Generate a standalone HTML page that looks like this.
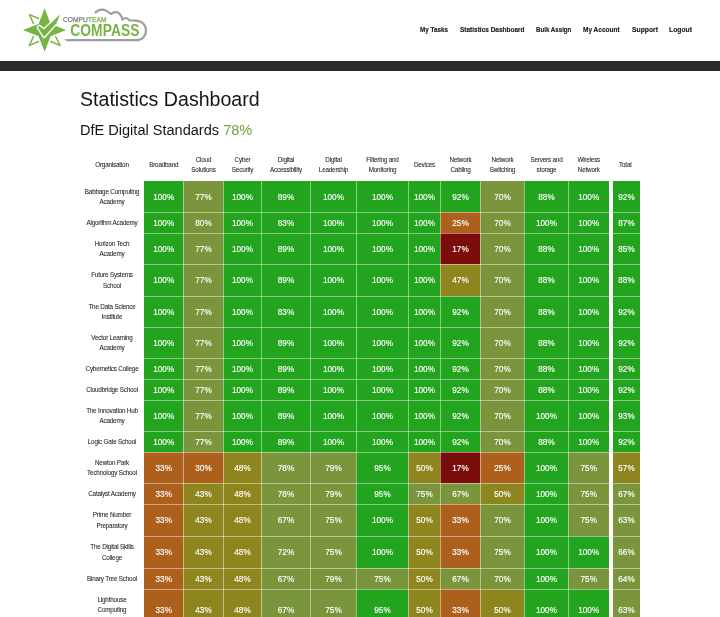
<!DOCTYPE html>
<html><head><meta charset="utf-8"><title>Statistics Dashboard</title>
<style>
html,body{margin:0;padding:0;background:#fff;}
#wrap{position:absolute;left:0;top:0;width:720px;height:617px;will-change:transform;background:#fff;}
body{width:720px;height:617px;overflow:hidden;position:relative;font-family:"Liberation Sans",sans-serif;color:#222;}
.logo{position:absolute;left:0;top:0;width:160px;height:60px;}
.nav{position:absolute;top:24.0px;font-weight:bold;font-size:7px;transform-origin:0 0;color:#1a1a1a;white-space:nowrap;line-height:12px;-webkit-text-stroke:0.15px #1a1a1a;}
.bar{position:absolute;left:0;top:61px;width:720px;height:10px;background:#2b2b2b;}
h1{position:absolute;left:80px;top:84.6px;margin:0;font-weight:normal;font-size:19.6px;line-height:28px;color:#151515;white-space:nowrap;}
h2{position:absolute;left:80px;top:120.3px;margin:0;font-weight:normal;font-size:14.55px;line-height:20px;color:#151515;white-space:nowrap;}
h2 span{color:#74a043;}
.th{position:absolute;top:150.0px;height:30.4px;display:flex;align-items:center;justify-content:center;text-align:center;font-size:6.3px;letter-spacing:-0.18px;line-height:10.2px;color:#222;-webkit-text-stroke:0.06px #222;}
.org{position:absolute;left:80px;width:64px;padding-top:1.2px;box-sizing:border-box;display:flex;align-items:center;justify-content:center;text-align:center;font-size:6.3px;letter-spacing:-0.18px;line-height:10.2px;color:#222;-webkit-text-stroke:0.06px #222;}
.c{position:absolute;display:flex;padding-top:1.4px;box-sizing:border-box;align-items:center;justify-content:center;color:#fff;font-size:8.2px;-webkit-text-stroke:0.15px #fff;}
.vl{position:absolute;top:181px;height:440px;width:1px;background:rgba(255,255,255,0.45);}
.hl{position:absolute;left:144px;width:465px;height:1px;background:rgba(255,255,255,0.45);}
.hl2{position:absolute;left:613px;width:27px;height:1px;background:rgba(255,255,255,0.45);}
</style></head><body><div id="wrap">
<div class="logo"><svg width="160" height="60" viewBox="0 0 160 60">
<path d="M44.6 8.2 L50.6 23.9 L66.2 30.0 L50.6 36.3 L44.6 51.8 L38.6 36.3 L22.9 30.0 L38.6 23.9 Z" fill="#78b444"/>
<g fill="none" stroke="#78b444" stroke-width="1.4" stroke-linecap="round" stroke-linejoin="round">
<path d="M38.5 18.5 L29.5 14.6 L33.5 23.6"/>
<path d="M33.5 36.6 L29.2 45.6 L38.5 41.5"/>
<path d="M50.7 41.5 L60.1 45.4 L55.7 36.6"/>
</g>
<path d="M37.8 27.3 L39.2 25.9 L44.0 29.4 L60.3 14.3 L56.3 23.6 L44.0 37.0 Z" fill="#78b444" stroke="#fff" stroke-width="2.6" stroke-linejoin="round" paint-order="stroke"/>
<text x="63" y="22" font-family="Liberation Sans, sans-serif" font-size="6.7" fill="#808080" stroke="#808080" stroke-width="0.25">COMPU<tspan fill="#78b444" stroke="#78b444">TEAM</tspan></text>
<text transform="translate(70.3,36) scale(0.926,1.08)" x="0" y="0" font-family="Liberation Sans, sans-serif" font-weight="bold" font-size="15" fill="#78b444">COMPASS</text>
<path d="M95 13.2 C97 10.5 100 9.6 102.2 9.6 C105 9.6 108 11.5 110.8 14 C112 12.8 114 12 116.1 12.05 C119 12.2 121 14.5 122.6 19.3 C123.8 18.3 125 18 126.2 18 C127.5 18 128.5 19.3 129.1 20.3 L135.6 20.6 C142 20.8 146 25 146 30.5 C146 36 142 40.2 136.5 40.2 L68 40.2" fill="none" stroke="#9d9ea0" stroke-width="2.2"/>
<path d="M63.9 39.2 L68.5 39.2 L68.5 41.2 L67 41.2 Z" fill="#9c9c9e"/>
</svg>
</div>
<div class="nav" style="left:420px;transform:scaleX(0.903)">My Tasks</div>
<div class="nav" style="left:459.7px;transform:scaleX(0.927)">Statistics Dashboard</div>
<div class="nav" style="left:535.9px;transform:scaleX(0.88)">Bulk Assign</div>
<div class="nav" style="left:583.1px;transform:scaleX(0.929)">My Account</div>
<div class="nav" style="left:631.5px;transform:scaleX(0.97)">Support</div>
<div class="nav" style="left:668.8px;transform:scaleX(0.966)">Logout</div>
<div class="bar"></div>
<h1>Statistics Dashboard</h1>
<h2>DfE Digital Standards <span>78%</span></h2>
<div class="th" style="left:144px;width:39.5px">Broadband</div>
<div class="th" style="left:183.5px;width:40.0px">Cloud<br>Solutions</div>
<div class="th" style="left:223.5px;width:38.0px">Cyber<br>Security</div>
<div class="th" style="left:261.5px;width:49.0px">Digital<br>Accessibility</div>
<div class="th" style="left:310.5px;width:46.0px">Digital<br>Leadership</div>
<div class="th" style="left:356.5px;width:52.0px">Filtering and<br>Monitoring</div>
<div class="th" style="left:408.5px;width:32.0px">Devices</div>
<div class="th" style="left:440.5px;width:40.0px">Network<br>Cabling</div>
<div class="th" style="left:480.5px;width:44.0px">Network<br>Switching</div>
<div class="th" style="left:524.5px;width:44.0px">Servers and<br>storage</div>
<div class="th" style="left:568.5px;width:40.5px">Wireless<br>Network</div>
<div class="th" style="left:80px;width:64px">Organisation</div>
<div class="th" style="left:610px;width:30.5px">Total</div>
<div class="org" style="top:181px;height:31px"><span>Babbage Computing<br>Academy</span></div>
<div class="c" style="left:144px;top:181px;width:39px;height:31px;background:#22a41f"><span style="position:relative;left:0.25px;top:0.15px">100%</span></div>
<div class="c" style="left:183px;top:181px;width:40px;height:31px;background:#7a953b"><span style="position:relative;left:0.5px;top:0.15px">77%</span></div>
<div class="c" style="left:223px;top:181px;width:38px;height:31px;background:#22a41f"><span style="position:relative;left:0.5px;top:0.15px">100%</span></div>
<div class="c" style="left:261px;top:181px;width:49px;height:31px;background:#22a41f"><span style="position:relative;left:0.5px;top:0.15px">89%</span></div>
<div class="c" style="left:310px;top:181px;width:46px;height:31px;background:#22a41f"><span style="position:relative;left:0.5px;top:0.15px">100%</span></div>
<div class="c" style="left:356px;top:181px;width:52px;height:31px;background:#22a41f"><span style="position:relative;left:0.5px;top:0.15px">100%</span></div>
<div class="c" style="left:408px;top:181px;width:32px;height:31px;background:#22a41f"><span style="position:relative;left:0.5px;top:0.15px">100%</span></div>
<div class="c" style="left:440px;top:181px;width:40px;height:31px;background:#22a41f"><span style="position:relative;left:0.5px;top:0.15px">92%</span></div>
<div class="c" style="left:480px;top:181px;width:44px;height:31px;background:#7a953b"><span style="position:relative;left:0.5px;top:0.15px">70%</span></div>
<div class="c" style="left:524px;top:181px;width:44px;height:31px;background:#22a41f"><span style="position:relative;left:0.5px;top:0.15px">88%</span></div>
<div class="c" style="left:568px;top:181px;width:41px;height:31px;background:#22a41f"><span style="position:relative;left:0.25px;top:0.15px">100%</span></div>
<div class="c" style="left:613px;top:181px;width:27px;height:31px;background:#22a41f">92%</div>
<div class="org" style="top:212px;height:21px"><span>Algorithm Academy</span></div>
<div class="c" style="left:144px;top:212px;width:39px;height:21px;background:#22a41f"><span style="position:relative;left:0.25px;top:0.35px">100%</span></div>
<div class="c" style="left:183px;top:212px;width:40px;height:21px;background:#7a953b"><span style="position:relative;left:0.5px;top:0.35px">80%</span></div>
<div class="c" style="left:223px;top:212px;width:38px;height:21px;background:#22a41f"><span style="position:relative;left:0.5px;top:0.35px">100%</span></div>
<div class="c" style="left:261px;top:212px;width:49px;height:21px;background:#22a41f"><span style="position:relative;left:0.5px;top:0.35px">83%</span></div>
<div class="c" style="left:310px;top:212px;width:46px;height:21px;background:#22a41f"><span style="position:relative;left:0.5px;top:0.35px">100%</span></div>
<div class="c" style="left:356px;top:212px;width:52px;height:21px;background:#22a41f"><span style="position:relative;left:0.5px;top:0.35px">100%</span></div>
<div class="c" style="left:408px;top:212px;width:32px;height:21px;background:#22a41f"><span style="position:relative;left:0.5px;top:0.35px">100%</span></div>
<div class="c" style="left:440px;top:212px;width:40px;height:21px;background:#ad601b"><span style="position:relative;left:0.5px;top:0.35px">25%</span></div>
<div class="c" style="left:480px;top:212px;width:44px;height:21px;background:#7a953b"><span style="position:relative;left:0.5px;top:0.35px">70%</span></div>
<div class="c" style="left:524px;top:212px;width:44px;height:21px;background:#22a41f"><span style="position:relative;left:0.5px;top:0.35px">100%</span></div>
<div class="c" style="left:568px;top:212px;width:41px;height:21px;background:#22a41f"><span style="position:relative;left:0.25px;top:0.35px">100%</span></div>
<div class="c" style="left:613px;top:212px;width:27px;height:21px;background:#22a41f">87%</div>
<div class="org" style="top:233px;height:31px"><span>Horizon Tech<br>Academy</span></div>
<div class="c" style="left:144px;top:233px;width:39px;height:31px;background:#22a41f"><span style="position:relative;left:0.25px;top:0.4px">100%</span></div>
<div class="c" style="left:183px;top:233px;width:40px;height:31px;background:#7a953b"><span style="position:relative;left:0.5px;top:0.4px">77%</span></div>
<div class="c" style="left:223px;top:233px;width:38px;height:31px;background:#22a41f"><span style="position:relative;left:0.5px;top:0.4px">100%</span></div>
<div class="c" style="left:261px;top:233px;width:49px;height:31px;background:#22a41f"><span style="position:relative;left:0.5px;top:0.4px">89%</span></div>
<div class="c" style="left:310px;top:233px;width:46px;height:31px;background:#22a41f"><span style="position:relative;left:0.5px;top:0.4px">100%</span></div>
<div class="c" style="left:356px;top:233px;width:52px;height:31px;background:#22a41f"><span style="position:relative;left:0.5px;top:0.4px">100%</span></div>
<div class="c" style="left:408px;top:233px;width:32px;height:31px;background:#22a41f"><span style="position:relative;left:0.5px;top:0.4px">100%</span></div>
<div class="c" style="left:440px;top:233px;width:40px;height:31px;background:#7a0c0c"><span style="position:relative;left:0.5px;top:0.4px">17%</span></div>
<div class="c" style="left:480px;top:233px;width:44px;height:31px;background:#7a953b"><span style="position:relative;left:0.5px;top:0.4px">70%</span></div>
<div class="c" style="left:524px;top:233px;width:44px;height:31px;background:#22a41f"><span style="position:relative;left:0.5px;top:0.4px">88%</span></div>
<div class="c" style="left:568px;top:233px;width:41px;height:31px;background:#22a41f"><span style="position:relative;left:0.25px;top:0.4px">100%</span></div>
<div class="c" style="left:613px;top:233px;width:27px;height:31px;background:#22a41f">85%</div>
<div class="org" style="top:264px;height:32px"><span>Future Systems<br>School</span></div>
<div class="c" style="left:144px;top:264px;width:39px;height:32px;background:#22a41f"><span style="position:relative;left:0.25px;top:0.1px">100%</span></div>
<div class="c" style="left:183px;top:264px;width:40px;height:32px;background:#7a953b"><span style="position:relative;left:0.5px;top:0.1px">77%</span></div>
<div class="c" style="left:223px;top:264px;width:38px;height:32px;background:#22a41f"><span style="position:relative;left:0.5px;top:0.1px">100%</span></div>
<div class="c" style="left:261px;top:264px;width:49px;height:32px;background:#22a41f"><span style="position:relative;left:0.5px;top:0.1px">89%</span></div>
<div class="c" style="left:310px;top:264px;width:46px;height:32px;background:#22a41f"><span style="position:relative;left:0.5px;top:0.1px">100%</span></div>
<div class="c" style="left:356px;top:264px;width:52px;height:32px;background:#22a41f"><span style="position:relative;left:0.5px;top:0.1px">100%</span></div>
<div class="c" style="left:408px;top:264px;width:32px;height:32px;background:#22a41f"><span style="position:relative;left:0.5px;top:0.1px">100%</span></div>
<div class="c" style="left:440px;top:264px;width:40px;height:32px;background:#8e851f"><span style="position:relative;left:0.5px;top:0.1px">47%</span></div>
<div class="c" style="left:480px;top:264px;width:44px;height:32px;background:#7a953b"><span style="position:relative;left:0.5px;top:0.1px">70%</span></div>
<div class="c" style="left:524px;top:264px;width:44px;height:32px;background:#22a41f"><span style="position:relative;left:0.5px;top:0.1px">88%</span></div>
<div class="c" style="left:568px;top:264px;width:41px;height:32px;background:#22a41f"><span style="position:relative;left:0.25px;top:0.1px">100%</span></div>
<div class="c" style="left:613px;top:264px;width:27px;height:32px;background:#22a41f">88%</div>
<div class="org" style="top:296px;height:31px"><span>The Data Science<br>Institute</span></div>
<div class="c" style="left:144px;top:296px;width:39px;height:31px;background:#22a41f"><span style="position:relative;left:0.25px;top:0.2px">100%</span></div>
<div class="c" style="left:183px;top:296px;width:40px;height:31px;background:#7a953b"><span style="position:relative;left:0.5px;top:0.2px">77%</span></div>
<div class="c" style="left:223px;top:296px;width:38px;height:31px;background:#22a41f"><span style="position:relative;left:0.5px;top:0.2px">100%</span></div>
<div class="c" style="left:261px;top:296px;width:49px;height:31px;background:#22a41f"><span style="position:relative;left:0.5px;top:0.2px">83%</span></div>
<div class="c" style="left:310px;top:296px;width:46px;height:31px;background:#22a41f"><span style="position:relative;left:0.5px;top:0.2px">100%</span></div>
<div class="c" style="left:356px;top:296px;width:52px;height:31px;background:#22a41f"><span style="position:relative;left:0.5px;top:0.2px">100%</span></div>
<div class="c" style="left:408px;top:296px;width:32px;height:31px;background:#22a41f"><span style="position:relative;left:0.5px;top:0.2px">100%</span></div>
<div class="c" style="left:440px;top:296px;width:40px;height:31px;background:#22a41f"><span style="position:relative;left:0.5px;top:0.2px">92%</span></div>
<div class="c" style="left:480px;top:296px;width:44px;height:31px;background:#7a953b"><span style="position:relative;left:0.5px;top:0.2px">70%</span></div>
<div class="c" style="left:524px;top:296px;width:44px;height:31px;background:#22a41f"><span style="position:relative;left:0.5px;top:0.2px">88%</span></div>
<div class="c" style="left:568px;top:296px;width:41px;height:31px;background:#22a41f"><span style="position:relative;left:0.25px;top:0.2px">100%</span></div>
<div class="c" style="left:613px;top:296px;width:27px;height:31px;background:#22a41f">92%</div>
<div class="org" style="top:327px;height:31px"><span>Vector Learning<br>Academy</span></div>
<div class="c" style="left:144px;top:327px;width:39px;height:31px;background:#22a41f"><span style="position:relative;left:0.25px;top:0.55px">100%</span></div>
<div class="c" style="left:183px;top:327px;width:40px;height:31px;background:#7a953b"><span style="position:relative;left:0.5px;top:0.55px">77%</span></div>
<div class="c" style="left:223px;top:327px;width:38px;height:31px;background:#22a41f"><span style="position:relative;left:0.5px;top:0.55px">100%</span></div>
<div class="c" style="left:261px;top:327px;width:49px;height:31px;background:#22a41f"><span style="position:relative;left:0.5px;top:0.55px">89%</span></div>
<div class="c" style="left:310px;top:327px;width:46px;height:31px;background:#22a41f"><span style="position:relative;left:0.5px;top:0.55px">100%</span></div>
<div class="c" style="left:356px;top:327px;width:52px;height:31px;background:#22a41f"><span style="position:relative;left:0.5px;top:0.55px">100%</span></div>
<div class="c" style="left:408px;top:327px;width:32px;height:31px;background:#22a41f"><span style="position:relative;left:0.5px;top:0.55px">100%</span></div>
<div class="c" style="left:440px;top:327px;width:40px;height:31px;background:#22a41f"><span style="position:relative;left:0.5px;top:0.55px">92%</span></div>
<div class="c" style="left:480px;top:327px;width:44px;height:31px;background:#7a953b"><span style="position:relative;left:0.5px;top:0.55px">70%</span></div>
<div class="c" style="left:524px;top:327px;width:44px;height:31px;background:#22a41f"><span style="position:relative;left:0.5px;top:0.55px">88%</span></div>
<div class="c" style="left:568px;top:327px;width:41px;height:31px;background:#22a41f"><span style="position:relative;left:0.25px;top:0.55px">100%</span></div>
<div class="c" style="left:613px;top:327px;width:27px;height:31px;background:#22a41f">92%</div>
<div class="org" style="top:358px;height:21px"><span>Cybernetics College</span></div>
<div class="c" style="left:144px;top:358px;width:39px;height:21px;background:#22a41f"><span style="position:relative;left:0.25px;top:0.45px">100%</span></div>
<div class="c" style="left:183px;top:358px;width:40px;height:21px;background:#7a953b"><span style="position:relative;left:0.5px;top:0.45px">77%</span></div>
<div class="c" style="left:223px;top:358px;width:38px;height:21px;background:#22a41f"><span style="position:relative;left:0.5px;top:0.45px">100%</span></div>
<div class="c" style="left:261px;top:358px;width:49px;height:21px;background:#22a41f"><span style="position:relative;left:0.5px;top:0.45px">89%</span></div>
<div class="c" style="left:310px;top:358px;width:46px;height:21px;background:#22a41f"><span style="position:relative;left:0.5px;top:0.45px">100%</span></div>
<div class="c" style="left:356px;top:358px;width:52px;height:21px;background:#22a41f"><span style="position:relative;left:0.5px;top:0.45px">100%</span></div>
<div class="c" style="left:408px;top:358px;width:32px;height:21px;background:#22a41f"><span style="position:relative;left:0.5px;top:0.45px">100%</span></div>
<div class="c" style="left:440px;top:358px;width:40px;height:21px;background:#22a41f"><span style="position:relative;left:0.5px;top:0.45px">92%</span></div>
<div class="c" style="left:480px;top:358px;width:44px;height:21px;background:#7a953b"><span style="position:relative;left:0.5px;top:0.45px">70%</span></div>
<div class="c" style="left:524px;top:358px;width:44px;height:21px;background:#22a41f"><span style="position:relative;left:0.5px;top:0.45px">88%</span></div>
<div class="c" style="left:568px;top:358px;width:41px;height:21px;background:#22a41f"><span style="position:relative;left:0.25px;top:0.45px">100%</span></div>
<div class="c" style="left:613px;top:358px;width:27px;height:21px;background:#22a41f">92%</div>
<div class="org" style="top:379px;height:21px"><span>Cloudbridge School</span></div>
<div class="c" style="left:144px;top:379px;width:39px;height:21px;background:#22a41f"><span style="position:relative;left:0.25px;top:0.4px">100%</span></div>
<div class="c" style="left:183px;top:379px;width:40px;height:21px;background:#7a953b"><span style="position:relative;left:0.5px;top:0.4px">77%</span></div>
<div class="c" style="left:223px;top:379px;width:38px;height:21px;background:#22a41f"><span style="position:relative;left:0.5px;top:0.4px">100%</span></div>
<div class="c" style="left:261px;top:379px;width:49px;height:21px;background:#22a41f"><span style="position:relative;left:0.5px;top:0.4px">89%</span></div>
<div class="c" style="left:310px;top:379px;width:46px;height:21px;background:#22a41f"><span style="position:relative;left:0.5px;top:0.4px">100%</span></div>
<div class="c" style="left:356px;top:379px;width:52px;height:21px;background:#22a41f"><span style="position:relative;left:0.5px;top:0.4px">100%</span></div>
<div class="c" style="left:408px;top:379px;width:32px;height:21px;background:#22a41f"><span style="position:relative;left:0.5px;top:0.4px">100%</span></div>
<div class="c" style="left:440px;top:379px;width:40px;height:21px;background:#22a41f"><span style="position:relative;left:0.5px;top:0.4px">92%</span></div>
<div class="c" style="left:480px;top:379px;width:44px;height:21px;background:#7a953b"><span style="position:relative;left:0.5px;top:0.4px">70%</span></div>
<div class="c" style="left:524px;top:379px;width:44px;height:21px;background:#22a41f"><span style="position:relative;left:0.5px;top:0.4px">88%</span></div>
<div class="c" style="left:568px;top:379px;width:41px;height:21px;background:#22a41f"><span style="position:relative;left:0.25px;top:0.4px">100%</span></div>
<div class="c" style="left:613px;top:379px;width:27px;height:21px;background:#22a41f">92%</div>
<div class="org" style="top:400px;height:31px"><span>The Innovation Hub<br>Academy</span></div>
<div class="c" style="left:144px;top:400px;width:39px;height:31px;background:#22a41f"><span style="position:relative;left:0.25px;top:0.5px">100%</span></div>
<div class="c" style="left:183px;top:400px;width:40px;height:31px;background:#7a953b"><span style="position:relative;left:0.5px;top:0.5px">77%</span></div>
<div class="c" style="left:223px;top:400px;width:38px;height:31px;background:#22a41f"><span style="position:relative;left:0.5px;top:0.5px">100%</span></div>
<div class="c" style="left:261px;top:400px;width:49px;height:31px;background:#22a41f"><span style="position:relative;left:0.5px;top:0.5px">89%</span></div>
<div class="c" style="left:310px;top:400px;width:46px;height:31px;background:#22a41f"><span style="position:relative;left:0.5px;top:0.5px">100%</span></div>
<div class="c" style="left:356px;top:400px;width:52px;height:31px;background:#22a41f"><span style="position:relative;left:0.5px;top:0.5px">100%</span></div>
<div class="c" style="left:408px;top:400px;width:32px;height:31px;background:#22a41f"><span style="position:relative;left:0.5px;top:0.5px">100%</span></div>
<div class="c" style="left:440px;top:400px;width:40px;height:31px;background:#22a41f"><span style="position:relative;left:0.5px;top:0.5px">92%</span></div>
<div class="c" style="left:480px;top:400px;width:44px;height:31px;background:#7a953b"><span style="position:relative;left:0.5px;top:0.5px">70%</span></div>
<div class="c" style="left:524px;top:400px;width:44px;height:31px;background:#22a41f"><span style="position:relative;left:0.5px;top:0.5px">100%</span></div>
<div class="c" style="left:568px;top:400px;width:41px;height:31px;background:#22a41f"><span style="position:relative;left:0.25px;top:0.5px">100%</span></div>
<div class="c" style="left:613px;top:400px;width:27px;height:31px;background:#22a41f">93%</div>
<div class="org" style="top:431px;height:21px"><span>Logic Gate School</span></div>
<div class="c" style="left:144px;top:431px;width:39px;height:21px;background:#22a41f"><span style="position:relative;left:0.25px;top:0.55px">100%</span></div>
<div class="c" style="left:183px;top:431px;width:40px;height:21px;background:#7a953b"><span style="position:relative;left:0.5px;top:0.55px">77%</span></div>
<div class="c" style="left:223px;top:431px;width:38px;height:21px;background:#22a41f"><span style="position:relative;left:0.5px;top:0.55px">100%</span></div>
<div class="c" style="left:261px;top:431px;width:49px;height:21px;background:#22a41f"><span style="position:relative;left:0.5px;top:0.55px">89%</span></div>
<div class="c" style="left:310px;top:431px;width:46px;height:21px;background:#22a41f"><span style="position:relative;left:0.5px;top:0.55px">100%</span></div>
<div class="c" style="left:356px;top:431px;width:52px;height:21px;background:#22a41f"><span style="position:relative;left:0.5px;top:0.55px">100%</span></div>
<div class="c" style="left:408px;top:431px;width:32px;height:21px;background:#22a41f"><span style="position:relative;left:0.5px;top:0.55px">100%</span></div>
<div class="c" style="left:440px;top:431px;width:40px;height:21px;background:#22a41f"><span style="position:relative;left:0.5px;top:0.55px">92%</span></div>
<div class="c" style="left:480px;top:431px;width:44px;height:21px;background:#7a953b"><span style="position:relative;left:0.5px;top:0.55px">70%</span></div>
<div class="c" style="left:524px;top:431px;width:44px;height:21px;background:#22a41f"><span style="position:relative;left:0.5px;top:0.55px">88%</span></div>
<div class="c" style="left:568px;top:431px;width:41px;height:21px;background:#22a41f"><span style="position:relative;left:0.25px;top:0.55px">100%</span></div>
<div class="c" style="left:613px;top:431px;width:27px;height:21px;background:#22a41f">92%</div>
<div class="org" style="top:452px;height:31px"><span>Newton Park<br>Technology School</span></div>
<div class="c" style="left:144px;top:452px;width:39px;height:31px;background:#ad601b"><span style="position:relative;left:0.25px;top:0.4px">33%</span></div>
<div class="c" style="left:183px;top:452px;width:40px;height:31px;background:#ad601b"><span style="position:relative;left:0.5px;top:0.4px">30%</span></div>
<div class="c" style="left:223px;top:452px;width:38px;height:31px;background:#8e851f"><span style="position:relative;left:0.5px;top:0.4px">48%</span></div>
<div class="c" style="left:261px;top:452px;width:49px;height:31px;background:#7a953b"><span style="position:relative;left:0.5px;top:0.4px">78%</span></div>
<div class="c" style="left:310px;top:452px;width:46px;height:31px;background:#7a953b"><span style="position:relative;left:0.5px;top:0.4px">79%</span></div>
<div class="c" style="left:356px;top:452px;width:52px;height:31px;background:#22a41f"><span style="position:relative;left:0.5px;top:0.4px">95%</span></div>
<div class="c" style="left:408px;top:452px;width:32px;height:31px;background:#8e851f"><span style="position:relative;left:0.5px;top:0.4px">50%</span></div>
<div class="c" style="left:440px;top:452px;width:40px;height:31px;background:#7a0c0c"><span style="position:relative;left:0.5px;top:0.4px">17%</span></div>
<div class="c" style="left:480px;top:452px;width:44px;height:31px;background:#ad601b"><span style="position:relative;left:0.5px;top:0.4px">25%</span></div>
<div class="c" style="left:524px;top:452px;width:44px;height:31px;background:#22a41f"><span style="position:relative;left:0.5px;top:0.4px">100%</span></div>
<div class="c" style="left:568px;top:452px;width:41px;height:31px;background:#7a953b"><span style="position:relative;left:0.25px;top:0.4px">75%</span></div>
<div class="c" style="left:613px;top:452px;width:27px;height:31px;background:#8e851f">57%</div>
<div class="org" style="top:483px;height:21px"><span>Catalyst Academy</span></div>
<div class="c" style="left:144px;top:483px;width:39px;height:21px;background:#ad601b"><span style="position:relative;left:0.25px;top:0.25px">33%</span></div>
<div class="c" style="left:183px;top:483px;width:40px;height:21px;background:#8e851f"><span style="position:relative;left:0.5px;top:0.25px">43%</span></div>
<div class="c" style="left:223px;top:483px;width:38px;height:21px;background:#8e851f"><span style="position:relative;left:0.5px;top:0.25px">48%</span></div>
<div class="c" style="left:261px;top:483px;width:49px;height:21px;background:#7a953b"><span style="position:relative;left:0.5px;top:0.25px">78%</span></div>
<div class="c" style="left:310px;top:483px;width:46px;height:21px;background:#7a953b"><span style="position:relative;left:0.5px;top:0.25px">79%</span></div>
<div class="c" style="left:356px;top:483px;width:52px;height:21px;background:#22a41f"><span style="position:relative;left:0.5px;top:0.25px">95%</span></div>
<div class="c" style="left:408px;top:483px;width:32px;height:21px;background:#7a953b"><span style="position:relative;left:0.5px;top:0.25px">75%</span></div>
<div class="c" style="left:440px;top:483px;width:40px;height:21px;background:#7a953b"><span style="position:relative;left:0.5px;top:0.25px">67%</span></div>
<div class="c" style="left:480px;top:483px;width:44px;height:21px;background:#8e851f"><span style="position:relative;left:0.5px;top:0.25px">50%</span></div>
<div class="c" style="left:524px;top:483px;width:44px;height:21px;background:#22a41f"><span style="position:relative;left:0.5px;top:0.25px">100%</span></div>
<div class="c" style="left:568px;top:483px;width:41px;height:21px;background:#7a953b"><span style="position:relative;left:0.25px;top:0.25px">75%</span></div>
<div class="c" style="left:613px;top:483px;width:27px;height:21px;background:#7a953b">67%</div>
<div class="org" style="top:504px;height:32px"><span>Prime Number<br>Preparatory</span></div>
<div class="c" style="left:144px;top:504px;width:39px;height:32px;background:#ad601b"><span style="position:relative;left:0.25px;top:0.2px">33%</span></div>
<div class="c" style="left:183px;top:504px;width:40px;height:32px;background:#8e851f"><span style="position:relative;left:0.5px;top:0.2px">43%</span></div>
<div class="c" style="left:223px;top:504px;width:38px;height:32px;background:#8e851f"><span style="position:relative;left:0.5px;top:0.2px">48%</span></div>
<div class="c" style="left:261px;top:504px;width:49px;height:32px;background:#7a953b"><span style="position:relative;left:0.5px;top:0.2px">67%</span></div>
<div class="c" style="left:310px;top:504px;width:46px;height:32px;background:#7a953b"><span style="position:relative;left:0.5px;top:0.2px">75%</span></div>
<div class="c" style="left:356px;top:504px;width:52px;height:32px;background:#22a41f"><span style="position:relative;left:0.5px;top:0.2px">100%</span></div>
<div class="c" style="left:408px;top:504px;width:32px;height:32px;background:#8e851f"><span style="position:relative;left:0.5px;top:0.2px">50%</span></div>
<div class="c" style="left:440px;top:504px;width:40px;height:32px;background:#ad601b"><span style="position:relative;left:0.5px;top:0.2px">33%</span></div>
<div class="c" style="left:480px;top:504px;width:44px;height:32px;background:#7a953b"><span style="position:relative;left:0.5px;top:0.2px">70%</span></div>
<div class="c" style="left:524px;top:504px;width:44px;height:32px;background:#22a41f"><span style="position:relative;left:0.5px;top:0.2px">100%</span></div>
<div class="c" style="left:568px;top:504px;width:41px;height:32px;background:#7a953b"><span style="position:relative;left:0.25px;top:0.2px">75%</span></div>
<div class="c" style="left:613px;top:504px;width:27px;height:32px;background:#7a953b">63%</div>
<div class="org" style="top:536px;height:32px"><span>The Digital Skills<br>College</span></div>
<div class="c" style="left:144px;top:536px;width:39px;height:32px;background:#ad601b"><span style="position:relative;left:0.25px;top:0.05px">33%</span></div>
<div class="c" style="left:183px;top:536px;width:40px;height:32px;background:#8e851f"><span style="position:relative;left:0.5px;top:0.05px">43%</span></div>
<div class="c" style="left:223px;top:536px;width:38px;height:32px;background:#8e851f"><span style="position:relative;left:0.5px;top:0.05px">48%</span></div>
<div class="c" style="left:261px;top:536px;width:49px;height:32px;background:#7a953b"><span style="position:relative;left:0.5px;top:0.05px">72%</span></div>
<div class="c" style="left:310px;top:536px;width:46px;height:32px;background:#7a953b"><span style="position:relative;left:0.5px;top:0.05px">75%</span></div>
<div class="c" style="left:356px;top:536px;width:52px;height:32px;background:#22a41f"><span style="position:relative;left:0.5px;top:0.05px">100%</span></div>
<div class="c" style="left:408px;top:536px;width:32px;height:32px;background:#8e851f"><span style="position:relative;left:0.5px;top:0.05px">50%</span></div>
<div class="c" style="left:440px;top:536px;width:40px;height:32px;background:#ad601b"><span style="position:relative;left:0.5px;top:0.05px">33%</span></div>
<div class="c" style="left:480px;top:536px;width:44px;height:32px;background:#7a953b"><span style="position:relative;left:0.5px;top:0.05px">75%</span></div>
<div class="c" style="left:524px;top:536px;width:44px;height:32px;background:#22a41f"><span style="position:relative;left:0.5px;top:0.05px">100%</span></div>
<div class="c" style="left:568px;top:536px;width:41px;height:32px;background:#22a41f"><span style="position:relative;left:0.25px;top:0.05px">100%</span></div>
<div class="c" style="left:613px;top:536px;width:27px;height:32px;background:#7a953b">66%</div>
<div class="org" style="top:568px;height:21px"><span>Binary Tree School</span></div>
<div class="c" style="left:144px;top:568px;width:39px;height:21px;background:#ad601b"><span style="position:relative;left:0.25px;top:-0.15px">33%</span></div>
<div class="c" style="left:183px;top:568px;width:40px;height:21px;background:#8e851f"><span style="position:relative;left:0.5px;top:-0.15px">43%</span></div>
<div class="c" style="left:223px;top:568px;width:38px;height:21px;background:#8e851f"><span style="position:relative;left:0.5px;top:-0.15px">48%</span></div>
<div class="c" style="left:261px;top:568px;width:49px;height:21px;background:#7a953b"><span style="position:relative;left:0.5px;top:-0.15px">67%</span></div>
<div class="c" style="left:310px;top:568px;width:46px;height:21px;background:#7a953b"><span style="position:relative;left:0.5px;top:-0.15px">79%</span></div>
<div class="c" style="left:356px;top:568px;width:52px;height:21px;background:#7a953b"><span style="position:relative;left:0.5px;top:-0.15px">75%</span></div>
<div class="c" style="left:408px;top:568px;width:32px;height:21px;background:#8e851f"><span style="position:relative;left:0.5px;top:-0.15px">50%</span></div>
<div class="c" style="left:440px;top:568px;width:40px;height:21px;background:#7a953b"><span style="position:relative;left:0.5px;top:-0.15px">67%</span></div>
<div class="c" style="left:480px;top:568px;width:44px;height:21px;background:#7a953b"><span style="position:relative;left:0.5px;top:-0.15px">70%</span></div>
<div class="c" style="left:524px;top:568px;width:44px;height:21px;background:#22a41f"><span style="position:relative;left:0.5px;top:-0.15px">100%</span></div>
<div class="c" style="left:568px;top:568px;width:41px;height:21px;background:#7a953b"><span style="position:relative;left:0.25px;top:-0.15px">75%</span></div>
<div class="c" style="left:613px;top:568px;width:27px;height:21px;background:#7a953b">64%</div>
<div class="org" style="top:589px;height:41px"><span>Lighthouse<br>Computing<br>Academy</span></div>
<div class="c" style="left:144px;top:589px;width:39px;height:41px;background:#ad601b"><span style="position:relative;left:0.25px;top:-0.1px">33%</span></div>
<div class="c" style="left:183px;top:589px;width:40px;height:41px;background:#8e851f"><span style="position:relative;left:0.5px;top:-0.1px">43%</span></div>
<div class="c" style="left:223px;top:589px;width:38px;height:41px;background:#8e851f"><span style="position:relative;left:0.5px;top:-0.1px">48%</span></div>
<div class="c" style="left:261px;top:589px;width:49px;height:41px;background:#7a953b"><span style="position:relative;left:0.5px;top:-0.1px">67%</span></div>
<div class="c" style="left:310px;top:589px;width:46px;height:41px;background:#7a953b"><span style="position:relative;left:0.5px;top:-0.1px">75%</span></div>
<div class="c" style="left:356px;top:589px;width:52px;height:41px;background:#22a41f"><span style="position:relative;left:0.5px;top:-0.1px">95%</span></div>
<div class="c" style="left:408px;top:589px;width:32px;height:41px;background:#8e851f"><span style="position:relative;left:0.5px;top:-0.1px">50%</span></div>
<div class="c" style="left:440px;top:589px;width:40px;height:41px;background:#ad601b"><span style="position:relative;left:0.5px;top:-0.1px">33%</span></div>
<div class="c" style="left:480px;top:589px;width:44px;height:41px;background:#8e851f"><span style="position:relative;left:0.5px;top:-0.1px">50%</span></div>
<div class="c" style="left:524px;top:589px;width:44px;height:41px;background:#22a41f"><span style="position:relative;left:0.5px;top:-0.1px">100%</span></div>
<div class="c" style="left:568px;top:589px;width:41px;height:41px;background:#22a41f"><span style="position:relative;left:0.25px;top:-0.1px">100%</span></div>
<div class="c" style="left:613px;top:589px;width:27px;height:41px;background:#7a953b">63%</div>
<div class="vl" style="left:183px"></div>
<div class="vl" style="left:223px"></div>
<div class="vl" style="left:261px"></div>
<div class="vl" style="left:310px"></div>
<div class="vl" style="left:356px"></div>
<div class="vl" style="left:408px"></div>
<div class="vl" style="left:440px"></div>
<div class="vl" style="left:480px"></div>
<div class="vl" style="left:524px"></div>
<div class="vl" style="left:568px"></div>
<div class="hl" style="top:212px"></div>
<div class="hl2" style="top:212px"></div>
<div class="hl" style="top:233px"></div>
<div class="hl2" style="top:233px"></div>
<div class="hl" style="top:264px"></div>
<div class="hl2" style="top:264px"></div>
<div class="hl" style="top:296px"></div>
<div class="hl2" style="top:296px"></div>
<div class="hl" style="top:327px"></div>
<div class="hl2" style="top:327px"></div>
<div class="hl" style="top:358px"></div>
<div class="hl2" style="top:358px"></div>
<div class="hl" style="top:379px"></div>
<div class="hl2" style="top:379px"></div>
<div class="hl" style="top:400px"></div>
<div class="hl2" style="top:400px"></div>
<div class="hl" style="top:431px"></div>
<div class="hl2" style="top:431px"></div>
<div class="hl" style="top:452px"></div>
<div class="hl2" style="top:452px"></div>
<div class="hl" style="top:483px"></div>
<div class="hl2" style="top:483px"></div>
<div class="hl" style="top:504px"></div>
<div class="hl2" style="top:504px"></div>
<div class="hl" style="top:536px"></div>
<div class="hl2" style="top:536px"></div>
<div class="hl" style="top:568px"></div>
<div class="hl2" style="top:568px"></div>
<div class="hl" style="top:589px"></div>
<div class="hl2" style="top:589px"></div>
</div></body></html>
